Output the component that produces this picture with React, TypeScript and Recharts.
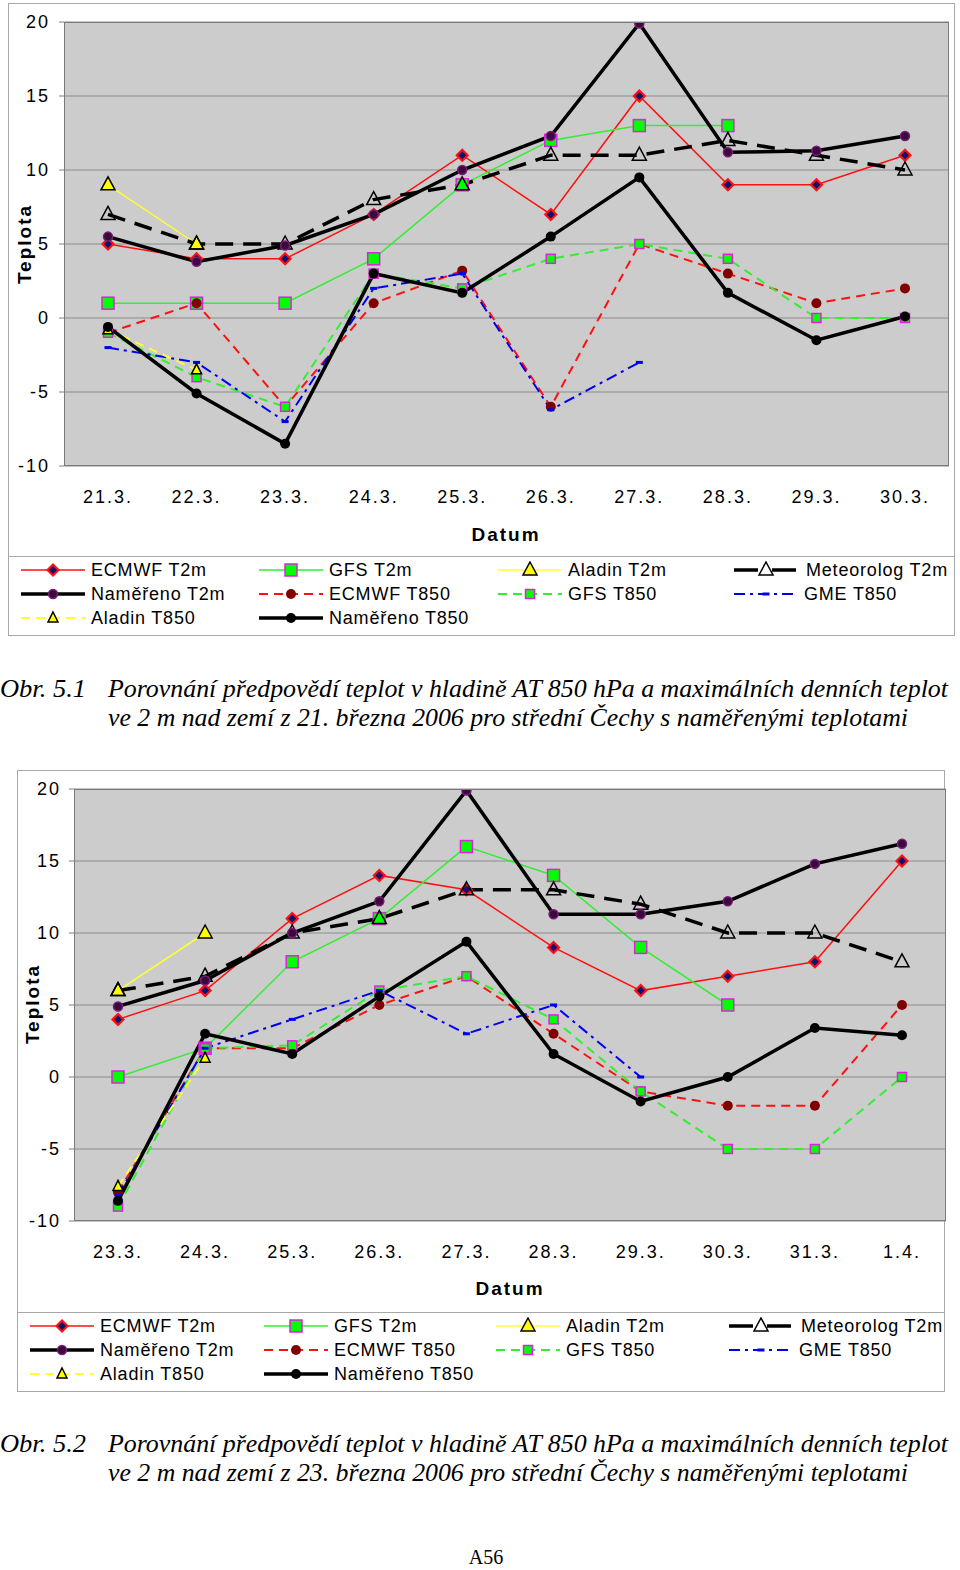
import React from 'react';
import { LineChart, Line, XAxis, YAxis, CartesianGrid } from 'recharts';

// --- chart 1 (forecast from 21 March) ---
const dates1 = ['21.3.', '22.3.', '23.3.', '24.3.', '25.3.', '26.3.', '27.3.', '28.3.', '29.3.', '30.3.'];
const ecmwfT2m1 = [5, 4, 4, 7, 11, 7, 15, 9, 9, 11];
const gfsT2m1 = [1, 1, 1, 4, 9, 12, 13, 13, null, null];
const aladinT2m1 = [9, 5, null, null, null, null, null, null, null, null];
const meteoT2m1 = [7, 5, 5, 8, 9, 11, 11, 12, 11, 10];
const merenoT2m1 = [5.5, 3.8, 4.9, 7, 10, 12.3, 19.9, 11.2, 11.3, 12.3];
const ecmwfT8501 = [-1, 1, -6, 1, 3.2, -6, 5, 3, 1, 2];
const gfsT8501 = [-1, -4, -6, 3, 2, 4, 5, 4, 0, 0];
const gmeT8501 = [-2, -3, -7, 2, 3, -6.2, -3, null, null, null];
const aladinT8501 = [-0.8, -3.5, null, null, null, null, null, null, null, null];
const merenoT8501 = [-0.6, -5.1, -8.5, 3, 1.7, 5.5, 9.5, 1.7, -1.5, 0.1];

// --- chart 2 (forecast from 23 March) ---
const dates2 = ['23.3.', '24.3.', '25.3.', '26.3.', '27.3.', '28.3.', '29.3.', '30.3.', '31.3.', '1.4.'];
const ecmwfT2m2 = [4, 6, 11, 14, 13, 9, 6, 7, 8, 15];
const gfsT2m2 = [0, 2, 8, 11, 16, 14, 9, 5, null, null];
const aladinT2m2 = [6, 10, null, null, null, null, null, null, null, null];
const meteoT2m2 = [6, 7, 10, 11, 13, 13, 12, 10, 10, 8];
const merenoT2m2 = [4.9, 6.7, 10, 12.2, 19.9, 11.3, 11.3, 12.2, 14.8, 16.2];
const ecmwfT8502 = [-8, 2, 2, 5, 7, 3, -1, -2, -2, 5];
const gfsT8502 = [-9, 2, 2.2, 6, 7, 4, -1, -5, -5, 0];
const gmeT8502 = [-8.2, 2, 4, 6, 3, 5, 0, null, null, null];
const aladinT8502 = [-7.6, 1.3, null, null, null, null, null, null, null, null];
const merenoT8502 = [-8.6, 3, 1.6, 5.6, 9.4, 1.6, -1.7, 0, 3.4, 2.9];

const yTicks = [-10, -5, 0, 5, 10, 15, 20];

const seriesNames = [
  'ECMWF T2m', 'GFS T2m', 'Aladin T2m', 'Meteorolog T2m',
  'Naměřeno T2m', 'ECMWF T850', 'GFS T850', 'GME T850',
  'Aladin T850', 'Naměřeno T850',
];

type Style = { stroke: string; width: number; dash?: string; marker: string };

const styles: Record<string, Style> = {
  'ECMWF T2m': { stroke: '#FF1010', width: 1.5, marker: 'diamond' },
  'GFS T2m': { stroke: '#33EE33', width: 1.5, marker: 'bigSquare' },
  'Aladin T2m': { stroke: '#FFFF33', width: 1.5, marker: 'yellowTri' },
  'Meteorolog T2m': { stroke: '#000', width: 3.5, dash: '18 10', marker: 'openTri' },
  'Naměřeno T2m': { stroke: '#000', width: 3.5, marker: 'purpleCircle' },
  'ECMWF T850': { stroke: '#FF1010', width: 2, dash: '9 6', marker: 'darkRedCircle' },
  'GFS T850': { stroke: '#33EE33', width: 2, dash: '9 6', marker: 'smallSquare' },
  'GME T850': { stroke: '#0000EE', width: 2, dash: '11 5 3 5', marker: 'blueDash' },
  'Aladin T850': { stroke: '#FFFF33', width: 2, dash: '9 6', marker: 'smallYellowTri' },
  'Naměřeno T850': { stroke: '#000', width: 3.5, marker: 'blackCircle' },
};

const Marker = ({ kind, x, y }: { kind: string; x: number; y: number }) => {
  switch (kind) {
    case 'diamond':
      return (
        <g>
          <polygon points={`${x},${y - 7} ${x + 7},${y} ${x},${y + 7} ${x - 7},${y}`} fill="#FF1010" />
          <polygon points={`${x},${y - 4} ${x + 4},${y} ${x},${y + 4} ${x - 4},${y}`} fill="#101070" />
        </g>
      );
    case 'bigSquare':
      return <rect x={x - 6} y={y - 6} width={12} height={12} fill="#00FF00" stroke="#E020E0" strokeWidth={1.5} />;
    case 'smallSquare':
      return <rect x={x - 4.5} y={y - 4.5} width={9} height={9} fill="#00FF00" stroke="#E020E0" strokeWidth={1.5} />;
    case 'yellowTri':
      return <polygon points={`${x},${y - 8} ${x + 7},${y + 5} ${x - 7},${y + 5}`} fill="#FFFF00" stroke="#000" strokeWidth={1.5} />;
    case 'smallYellowTri':
      return <polygon points={`${x},${y - 6} ${x + 5},${y + 4} ${x - 5},${y + 4}`} fill="#FFFF00" stroke="#000" strokeWidth={1.5} />;
    case 'openTri':
      return <polygon points={`${x},${y - 8} ${x + 7},${y + 5} ${x - 7},${y + 5}`} fill="none" stroke="#000" strokeWidth={1.5} />;
    case 'purpleCircle':
      return <circle cx={x} cy={y} r={4.5} fill="#3A0A3A" stroke="#7A1A7A" strokeWidth={1.5} />;
    case 'darkRedCircle':
      return <circle cx={x} cy={y} r={5} fill="#800000" />;
    case 'blackCircle':
      return <circle cx={x} cy={y} r={5} fill="#000" />;
    case 'blueDash':
      return <rect x={x - 3.5} y={y - 1.5} width={7} height={3} fill="#0000EE" />;
    default:
      return null;
  }
};

const makeDot = (kind: string) => (props: any) => {
  const { cx, cy, index, value } = props;
  const key = `dot-${kind}-${index}`;
  if (value == null || cx == null || cy == null || Number.isNaN(cy)) return <g key={key} />;
  return (
    <g key={key}>
      <Marker kind={kind} x={cx} y={cy} />
    </g>
  );
};

const buildRows = (dates: string[], values: (number | null)[][]) =>
  dates.map((d, i) => {
    const row: Record<string, any> = { date: d };
    seriesNames.forEach((name, s) => {
      row[name] = values[s][i];
    });
    return row;
  });

const rows1 = buildRows(dates1, [
  ecmwfT2m1, gfsT2m1, aladinT2m1, meteoT2m1, merenoT2m1,
  ecmwfT8501, gfsT8501, gmeT8501, aladinT8501, merenoT8501,
]);
const rows2 = buildRows(dates2, [
  ecmwfT2m2, gfsT2m2, aladinT2m2, meteoT2m2, merenoT2m2,
  ecmwfT8502, gfsT8502, gmeT8502, aladinT8502, merenoT8502,
]);

const FONT = 'Arial, "Liberation Sans", sans-serif';
const SERIF = '"Liberation Serif", "Times New Roman", serif';

type PanelProps = {
  rows: any[];
  top: number;
  height: number;
  yAxisWidth: number;
  yTickMargin: number;
  margin: { top: number; right: number; bottom: number; left: number };
};

const tickStyle = { fill: '#000', fontSize: 18, letterSpacing: 2, fontFamily: FONT };

const Panel = ({ rows, top, height, yAxisWidth, yTickMargin, margin }: PanelProps) => (
  <div style={{ position: 'absolute', left: 0, top }}>
    <LineChart width={960} height={height} data={rows} margin={margin}>
      <CartesianGrid vertical={false} fill="#CCCCCC" stroke="#8C8C8C" strokeWidth={1} horizontalValues={yTicks} />
      <XAxis
        dataKey="date"
        padding={{ left: 44, right: 44 }}
        axisLine={false}
        tickLine={false}
        tickSize={6}
        tickMargin={18}
        height={40}
        interval={0}
        tick={tickStyle}
      />
      <YAxis
        domain={[-10, 20]}
        ticks={yTicks}
        interval={0}
        width={yAxisWidth}
        axisLine={false}
        tickLine={{ stroke: '#808080' }}
        tickSize={5}
        tickMargin={yTickMargin}
        allowDataOverflow
        tick={tickStyle}
      />
      {seriesNames.map((name) => {
        const st = styles[name];
        return (
          <Line
            key={name}
            dataKey={name}
            stroke={st.stroke}
            strokeWidth={st.width}
            strokeDasharray={st.dash}
            dot={makeDot(st.marker)}
            activeDot={false}
            isAnimationActive={false}
            type="linear"
          />
        );
      })}
    </LineChart>
  </div>
);

const LegendSample = ({ name }: { name: string }) => {
  const st = styles[name];
  const dash = st.dash ? (name === 'Meteorolog T2m' ? '24 14' : st.dash) : undefined;
  return (
    <svg width={64} height={18} style={{ display: 'block' }}>
      <line x1={0} y1={9} x2={64} y2={9} stroke={st.stroke} strokeWidth={st.width} strokeDasharray={dash} />
      <Marker kind={st.marker} x={32} y={9} />
    </svg>
  );
};

const Legend = ({ left, top, width, cols }: { left: number; top: number; width: number; cols: number[] }) => (
  <div
    style={{
      position: 'absolute', left, top, width, height: 80, boxSizing: 'border-box',
      border: '1px solid #A8A8A8', fontFamily: FONT, fontSize: 18, letterSpacing: 0.8,
    }}
  >
    {seriesNames.map((name, i) => {
      const col = i % 4;
      const row = Math.floor(i / 4);
      return (
        <div
          key={name}
          style={{ position: 'absolute', left: cols[col] - left, top: 2 + row * 24, display: 'flex', alignItems: 'center', height: 22 }}
        >
          <LegendSample name={name} />
          <span style={{ marginLeft: name === 'Meteorolog T2m' ? 8 : 6, whiteSpace: 'nowrap' }}>{name}</span>
        </div>
      );
    })}
  </div>
);

const Caption = ({ top, num, line1, line2 }: { top: number; num: string; line1: string; line2: string }) => (
  <svg width={960} height={70} style={{ position: 'absolute', left: 0, top }}>
    <g fontFamily={SERIF} fontStyle="italic" fontSize={25} fill="#000">
      <text x={0} y={30} textLength={86} lengthAdjust="spacingAndGlyphs">{num}</text>
      <text x={108} y={30} textLength={840} lengthAdjust="spacingAndGlyphs">{line1}</text>
      <text x={108} y={59} textLength={800} lengthAdjust="spacingAndGlyphs">{line2}</text>
    </g>
  </svg>
);

const AxisTitle = ({ x, y, text, rotate }: { x: number; y: number; text: string; rotate?: boolean }) => (
  <div
    style={{
      position: 'absolute', left: x, top: y, transform: `translate(-50%, -50%)${rotate ? ' rotate(-90deg)' : ''}`,
      fontFamily: FONT, fontWeight: 'bold', fontSize: 19, letterSpacing: 2, whiteSpace: 'nowrap', lineHeight: '20px',
    }}
  >
    {text}
  </div>
);

const Frame = ({ left, top, width, height }: { left: number; top: number; width: number; height: number }) => (
  <div style={{ position: 'absolute', left, top, width, height, boxSizing: 'border-box', border: '1px solid #A8A8A8' }} />
);

const PlotBorder = ({ left, top, width, height }: { left: number; top: number; width: number; height: number }) => (
  <div style={{ position: 'absolute', left, top, width, height, boxSizing: 'border-box', border: '1px solid #7A7A7A', pointerEvents: 'none' }} />
);

export default function App() {
  return (
    <div style={{ position: 'absolute', left: 0, top: 0, width: 960, height: 1570, background: '#fff', overflow: 'hidden' }}>
      {/* chart 1 */}
      <Frame left={8} top={3} width={947} height={633} />
      <Panel rows={rows1} top={0} height={560} yAxisWidth={64} yTickMargin={9} margin={{ top: 22, right: 11, bottom: 54, left: 0 }} />
      <PlotBorder left={64} top={22} width={885} height={444} />
      <AxisTitle x={25} y={244} text="Teplota" rotate />
      <AxisTitle x={506} y={535} text="Datum" />
      <Legend left={8} top={556} width={947} cols={[20, 258, 497, 733]} />
      <Caption
        top={667}
        num="Obr. 5.1"
        line1="Porovnání předpovědí teplot v hladině AT 850 hPa a maximálních denních teplot"
        line2="ve 2 m nad zemí z 21. března 2006 pro střední Čechy s naměřenými teplotami"
      />

      {/* chart 2 */}
      <Frame left={17} top={770} width={928} height={622} />
      <Panel rows={rows2} top={770} height={540} yAxisWidth={74} yTickMargin={8} margin={{ top: 19, right: 14, bottom: 49, left: 0 }} />
      <PlotBorder left={74} top={789} width={872} height={432} />
      <AxisTitle x={33} y={1004} text="Teplota" rotate />
      <AxisTitle x={510} y={1289} text="Datum" />
      <Legend left={17} top={1312} width={928} cols={[29, 263, 495, 728]} />
      <Caption
        top={1422}
        num="Obr. 5.2"
        line1="Porovnání předpovědí teplot v hladině AT 850 hPa a maximálních denních teplot"
        line2="ve 2 m nad zemí z 23. března 2006 pro střední Čechy s naměřenými teplotami"
      />

      <div style={{ position: 'absolute', left: 486, top: 1557, transform: 'translate(-50%, -50%)', fontFamily: SERIF, fontSize: 20 }}>
        A56
      </div>
    </div>
  );
}
